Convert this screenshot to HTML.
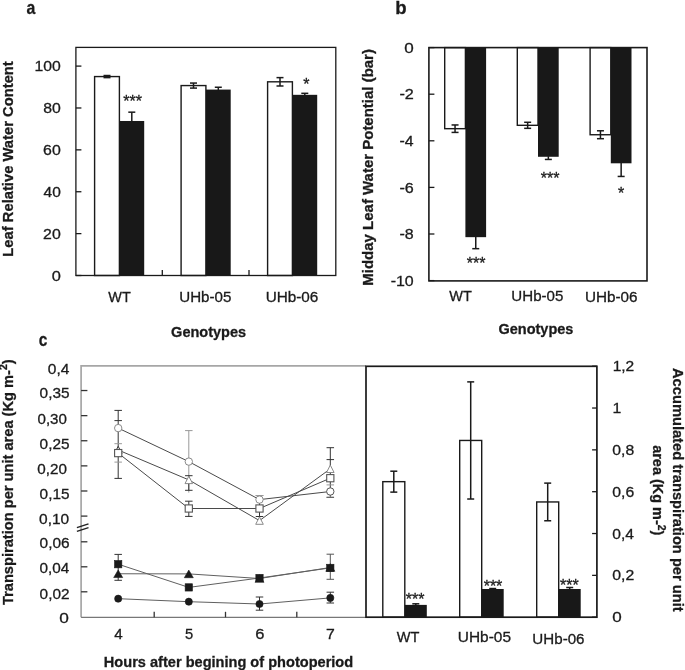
<!DOCTYPE html>
<html><head><meta charset="utf-8"><style>
html,body{margin:0;padding:0;background:#fff;overflow:hidden;width:685px;height:670px;}
svg{display:block;font-family:"Liberation Sans",sans-serif;-webkit-font-smoothing:antialiased;will-change:transform;}
text{stroke:#1a1a1a;stroke-width:0.3px;paint-order:stroke;}
</style></head><body>
<svg width="685" height="670" viewBox="0 0 685 670">
<rect width="685" height="670" fill="#fff"/>
<rect x="94.6" y="76.57" width="24.8" height="198.93" fill="#fff" stroke="#1a1a1a" stroke-width="1.4"/>
<rect x="181.1" y="85.57" width="24.8" height="189.93" fill="#fff" stroke="#1a1a1a" stroke-width="1.4"/>
<rect x="267.6" y="81.81" width="24.8" height="193.69" fill="#fff" stroke="#1a1a1a" stroke-width="1.4"/>
<rect x="119.4" y="120.99" width="24.8" height="154.51" fill="#181818"/>
<rect x="205.9" y="89.58" width="24.8" height="185.92" fill="#181818"/>
<rect x="292.4" y="94.82" width="24.8" height="180.68" fill="#181818"/>
<line x1="107" y1="75.52" x2="107" y2="77.62" stroke="#1a1a1a" stroke-width="1.5"/>
<line x1="103.5" y1="75.52" x2="110.5" y2="75.52" stroke="#1a1a1a" stroke-width="1.5"/>
<line x1="103.5" y1="77.62" x2="110.5" y2="77.62" stroke="#1a1a1a" stroke-width="1.5"/>
<line x1="193.5" y1="83.06" x2="193.5" y2="88.09" stroke="#1a1a1a" stroke-width="1.5"/>
<line x1="190" y1="83.06" x2="197" y2="83.06" stroke="#1a1a1a" stroke-width="1.5"/>
<line x1="190" y1="88.09" x2="197" y2="88.09" stroke="#1a1a1a" stroke-width="1.5"/>
<line x1="280" y1="77.62" x2="280" y2="85.99" stroke="#1a1a1a" stroke-width="1.5"/>
<line x1="276.5" y1="77.62" x2="283.5" y2="77.62" stroke="#1a1a1a" stroke-width="1.5"/>
<line x1="276.5" y1="85.99" x2="283.5" y2="85.99" stroke="#1a1a1a" stroke-width="1.5"/>
<line x1="131.8" y1="112.17" x2="131.8" y2="121.59" stroke="#1a1a1a" stroke-width="1.5"/>
<line x1="128.3" y1="112.17" x2="135.3" y2="112.17" stroke="#1a1a1a" stroke-width="1.5"/>
<line x1="218.3" y1="87.25" x2="218.3" y2="90.18" stroke="#1a1a1a" stroke-width="1.5"/>
<line x1="214.8" y1="87.25" x2="221.8" y2="87.25" stroke="#1a1a1a" stroke-width="1.5"/>
<line x1="304.8" y1="93.32" x2="304.8" y2="95.42" stroke="#1a1a1a" stroke-width="1.5"/>
<line x1="301.3" y1="93.32" x2="308.3" y2="93.32" stroke="#1a1a1a" stroke-width="1.5"/>
<rect x="75.9" y="47.4" width="259.9" height="228.1" fill="none" stroke="#1a1a1a" stroke-width="1.3"/>
<line x1="75.9" y1="275.5" x2="81.4" y2="275.5" stroke="#1a1a1a" stroke-width="1.3"/>
<line x1="75.9" y1="233.62" x2="81.4" y2="233.62" stroke="#1a1a1a" stroke-width="1.3"/>
<line x1="75.9" y1="191.74" x2="81.4" y2="191.74" stroke="#1a1a1a" stroke-width="1.3"/>
<line x1="75.9" y1="149.86" x2="81.4" y2="149.86" stroke="#1a1a1a" stroke-width="1.3"/>
<line x1="75.9" y1="107.98" x2="81.4" y2="107.98" stroke="#1a1a1a" stroke-width="1.3"/>
<line x1="75.9" y1="66.1" x2="81.4" y2="66.1" stroke="#1a1a1a" stroke-width="1.3"/>
<line x1="162.3" y1="275.5" x2="162.3" y2="270" stroke="#1a1a1a" stroke-width="1.3"/>
<line x1="249" y1="275.5" x2="249" y2="270" stroke="#1a1a1a" stroke-width="1.3"/>
<text transform="translate(51.64,280.6) scale(1.1247,1)" font-size="14.6" font-weight="normal" fill="#1a1a1a">0</text>
<text transform="translate(43.11,238.72) scale(1.0878,1)" font-size="14.6" font-weight="normal" fill="#1a1a1a">20</text>
<text transform="translate(43.51,196.84) scale(1.0618,1)" font-size="14.6" font-weight="normal" fill="#1a1a1a">40</text>
<text transform="translate(43.11,154.96) scale(1.0878,1)" font-size="14.6" font-weight="normal" fill="#1a1a1a">60</text>
<text transform="translate(43.19,113.08) scale(1.0825,1)" font-size="14.6" font-weight="normal" fill="#1a1a1a">80</text>
<text transform="translate(34.52,71.2) scale(1.0782,1)" font-size="14.6" font-weight="normal" fill="#1a1a1a">100</text>
<text transform="translate(108.33,302) scale(0.9893,1)" font-size="14.6" font-weight="normal" fill="#1a1a1a">WT</text>
<text transform="translate(179.26,302.3) scale(1.0367,1)" font-size="14.6" font-weight="normal" fill="#1a1a1a">UHb-05</text>
<text transform="translate(265.65,302.3) scale(1.0485,1)" font-size="14.6" font-weight="normal" fill="#1a1a1a">UHb-06</text>
<text transform="translate(171.12,336.5) scale(0.9689,1)" font-size="15" font-weight="bold" fill="#1a1a1a">Genotypes</text>
<text transform="translate(13,256.66) rotate(-90) scale(0.9844,1)" font-size="15" font-weight="bold" fill="#1a1a1a">Leaf Relative Water Content</text>
<text transform="translate(26.62,14) scale(0.8588,1)" font-size="18.5" font-weight="bold" fill="#1a1a1a">a</text>
<text x="132.7" y="106.5" font-size="16" font-weight="normal" text-anchor="middle" fill="#1a1a1a">***</text>
<text x="306.3" y="90" font-size="16" font-weight="normal" text-anchor="middle" fill="#1a1a1a">*</text>
<rect x="444.7" y="47.6" width="20.7" height="81.08" fill="#fff" stroke="#1a1a1a" stroke-width="1.4"/>
<rect x="517.3" y="47.6" width="20.7" height="77.71" fill="#fff" stroke="#1a1a1a" stroke-width="1.4"/>
<rect x="590.1" y="47.6" width="20.7" height="87.14" fill="#fff" stroke="#1a1a1a" stroke-width="1.4"/>
<rect x="465.4" y="47.6" width="20.7" height="189.56" fill="#181818"/>
<rect x="538" y="47.6" width="20.7" height="109.18" fill="#181818"/>
<rect x="610.8" y="47.6" width="20.7" height="115.7" fill="#181818"/>
<line x1="455.05" y1="124.96" x2="455.05" y2="132.41" stroke="#1a1a1a" stroke-width="1.5"/>
<line x1="451.55" y1="124.96" x2="458.55" y2="124.96" stroke="#1a1a1a" stroke-width="1.5"/>
<line x1="451.55" y1="132.41" x2="458.55" y2="132.41" stroke="#1a1a1a" stroke-width="1.5"/>
<line x1="527.65" y1="122.28" x2="527.65" y2="128.33" stroke="#1a1a1a" stroke-width="1.5"/>
<line x1="524.15" y1="122.28" x2="531.15" y2="122.28" stroke="#1a1a1a" stroke-width="1.5"/>
<line x1="524.15" y1="128.33" x2="531.15" y2="128.33" stroke="#1a1a1a" stroke-width="1.5"/>
<line x1="600.45" y1="130.78" x2="600.45" y2="138.7" stroke="#1a1a1a" stroke-width="1.5"/>
<line x1="596.95" y1="130.78" x2="603.95" y2="130.78" stroke="#1a1a1a" stroke-width="1.5"/>
<line x1="596.95" y1="138.7" x2="603.95" y2="138.7" stroke="#1a1a1a" stroke-width="1.5"/>
<line x1="475.75" y1="236.56" x2="475.75" y2="248.68" stroke="#1a1a1a" stroke-width="1.5"/>
<line x1="472.25" y1="248.68" x2="479.25" y2="248.68" stroke="#1a1a1a" stroke-width="1.5"/>
<line x1="548.35" y1="156.18" x2="548.35" y2="159.44" stroke="#1a1a1a" stroke-width="1.5"/>
<line x1="544.85" y1="159.44" x2="551.85" y2="159.44" stroke="#1a1a1a" stroke-width="1.5"/>
<line x1="621.15" y1="162.7" x2="621.15" y2="176.45" stroke="#1a1a1a" stroke-width="1.5"/>
<line x1="617.65" y1="176.45" x2="624.65" y2="176.45" stroke="#1a1a1a" stroke-width="1.5"/>
<rect x="428.9" y="47.6" width="218.1" height="233.3" fill="none" stroke="#1a1a1a" stroke-width="1.6"/>
<line x1="428.9" y1="47.6" x2="434.4" y2="47.6" stroke="#1a1a1a" stroke-width="1.3"/>
<line x1="428.9" y1="94.2" x2="434.4" y2="94.2" stroke="#1a1a1a" stroke-width="1.3"/>
<line x1="428.9" y1="140.8" x2="434.4" y2="140.8" stroke="#1a1a1a" stroke-width="1.3"/>
<line x1="428.9" y1="187.4" x2="434.4" y2="187.4" stroke="#1a1a1a" stroke-width="1.3"/>
<line x1="428.9" y1="234" x2="434.4" y2="234" stroke="#1a1a1a" stroke-width="1.3"/>
<line x1="428.9" y1="280.6" x2="434.4" y2="280.6" stroke="#1a1a1a" stroke-width="1.3"/>
<text transform="translate(404.32,52.7) scale(1.1680,1)" font-size="14.6" font-weight="normal" fill="#1a1a1a">0</text>
<text transform="translate(399.47,99.3) scale(1.1114,1)" font-size="14.6" font-weight="normal" fill="#1a1a1a">-2</text>
<text transform="translate(399.49,145.9) scale(1.0841,1)" font-size="14.6" font-weight="normal" fill="#1a1a1a">-4</text>
<text transform="translate(399.47,192.5) scale(1.1045,1)" font-size="14.6" font-weight="normal" fill="#1a1a1a">-6</text>
<text transform="translate(399.48,239.1) scale(1.0976,1)" font-size="14.6" font-weight="normal" fill="#1a1a1a">-8</text>
<text transform="translate(390.68,285.7) scale(1.0929,1)" font-size="14.6" font-weight="normal" fill="#1a1a1a">-10</text>
<text transform="translate(449.33,300.5) scale(0.9938,1)" font-size="14.6" font-weight="normal" fill="#1a1a1a">WT</text>
<text transform="translate(511.37,300.7) scale(1.0346,1)" font-size="14.6" font-weight="normal" fill="#1a1a1a">UHb-05</text>
<text transform="translate(584.95,302) scale(1.0465,1)" font-size="14.6" font-weight="normal" fill="#1a1a1a">UHb-06</text>
<text transform="translate(498.42,334.1) scale(0.9676,1)" font-size="15" font-weight="bold" fill="#1a1a1a">Genotypes</text>
<text transform="translate(373.1,285.67) rotate(-90) scale(0.9988,1)" font-size="15" font-weight="bold" fill="#1a1a1a">Midday Leaf Water Potential (bar)</text>
<text transform="translate(395.19,13.8) scale(1.0062,1)" font-size="18.5" font-weight="bold" fill="#1a1a1a">b</text>
<text x="476.2" y="269" font-size="16" font-weight="normal" text-anchor="middle" fill="#1a1a1a">***</text>
<text x="550.2" y="184" font-size="16" font-weight="normal" text-anchor="middle" fill="#1a1a1a">***</text>
<text x="621.2" y="198.5" font-size="16" font-weight="normal" text-anchor="middle" fill="#1a1a1a">*</text>
<line x1="81.1" y1="365.9" x2="366" y2="365.9" stroke="#a6a6a6" stroke-width="1.6"/>
<line x1="81.1" y1="365.1" x2="81.1" y2="617.3" stroke="#a6a6a6" stroke-width="1.7"/>
<line x1="81.1" y1="617.3" x2="366" y2="617.3" stroke="#777" stroke-width="1.3"/>
<line x1="81.1" y1="390.53" x2="87.4" y2="390.53" stroke="#333" stroke-width="1.3"/>
<line x1="81.1" y1="415.64" x2="87.4" y2="415.64" stroke="#333" stroke-width="1.3"/>
<line x1="81.1" y1="440.75" x2="87.4" y2="440.75" stroke="#333" stroke-width="1.3"/>
<line x1="81.1" y1="465.87" x2="87.4" y2="465.87" stroke="#333" stroke-width="1.3"/>
<line x1="81.1" y1="490.99" x2="87.4" y2="490.99" stroke="#333" stroke-width="1.3"/>
<line x1="81.1" y1="516.1" x2="87.4" y2="516.1" stroke="#333" stroke-width="1.3"/>
<line x1="81.1" y1="541.8" x2="87.4" y2="541.8" stroke="#333" stroke-width="1.3"/>
<line x1="81.1" y1="566.8" x2="87.4" y2="566.8" stroke="#333" stroke-width="1.3"/>
<line x1="81.1" y1="591.8" x2="87.4" y2="591.8" stroke="#333" stroke-width="1.3"/>
<line x1="154.2" y1="617.3" x2="154.2" y2="611.8" stroke="#333" stroke-width="1.3"/>
<line x1="225.5" y1="617.3" x2="225.5" y2="611.8" stroke="#333" stroke-width="1.3"/>
<line x1="296.8" y1="617.3" x2="296.8" y2="611.8" stroke="#333" stroke-width="1.3"/>
<line x1="76.9" y1="527.7" x2="88.5" y2="523.8" stroke="#222" stroke-width="1.4"/>
<line x1="76.9" y1="531.3" x2="88.5" y2="527.6" stroke="#222" stroke-width="1.4"/>
<text transform="translate(47.78,373.8) scale(1.0354,1)" font-size="15" font-weight="normal" fill="#1a1a1a">0,4</text>
<text transform="translate(39.58,398.3) scale(1.0259,1)" font-size="15" font-weight="normal" fill="#1a1a1a">0,35</text>
<text transform="translate(37.5,423.9) scale(1.0080,1)" font-size="15" font-weight="normal" fill="#1a1a1a">0,30</text>
<text transform="translate(39.58,448.8) scale(1.0259,1)" font-size="15" font-weight="normal" fill="#1a1a1a">0,25</text>
<text transform="translate(37.29,473.6) scale(1.0152,1)" font-size="15" font-weight="normal" fill="#1a1a1a">0,20</text>
<text transform="translate(39.58,498.9) scale(1.0259,1)" font-size="15" font-weight="normal" fill="#1a1a1a">0,15</text>
<text transform="translate(39.08,524) scale(1.0331,1)" font-size="15" font-weight="normal" fill="#1a1a1a">0,10</text>
<text transform="translate(39.58,547.8) scale(1.0287,1)" font-size="15" font-weight="normal" fill="#1a1a1a">0,06</text>
<text transform="translate(39.59,573.4) scale(1.0204,1)" font-size="15" font-weight="normal" fill="#1a1a1a">0,04</text>
<text transform="translate(39.59,598.9) scale(1.0243,1)" font-size="15" font-weight="normal" fill="#1a1a1a">0,02</text>
<text transform="translate(59.31,623.4) scale(1.1509,1)" font-size="15" font-weight="normal" fill="#1a1a1a">0</text>
<text transform="translate(114.32,639.4) scale(1.0133,1)" font-size="15" font-weight="normal" fill="#1a1a1a">4</text>
<text transform="translate(184.91,639.4) scale(0.9825,1)" font-size="15" font-weight="normal" fill="#1a1a1a">5</text>
<text transform="translate(255.17,639.4) scale(1.1014,1)" font-size="15" font-weight="normal" fill="#1a1a1a">6</text>
<text transform="translate(326.01,639.4) scale(1.0549,1)" font-size="15" font-weight="normal" fill="#1a1a1a">7</text>
<text transform="translate(103.85,666.5) scale(0.9721,1)" font-size="15" font-weight="bold" fill="#1a1a1a">Hours after begining of photoperiod</text>
<text transform="translate(38.78,345.8) scale(0.8359,1)" font-size="18.5" font-weight="bold" fill="#1a1a1a">c</text>
<text transform="translate(12.5,605.05) rotate(-90) scale(0.9761,1)" font-size="15" font-weight="bold" fill="#1a1a1a"><tspan font-size="15" dy="0" baseline-shift="0">Transpiration per unit area (Kg m-</tspan><tspan font-size="10.8" dy="0" baseline-shift="5.5">2</tspan><tspan font-size="15" dy="0" baseline-shift="0">)</tspan></text>
<polyline points="118.2,428.1 188.8,461.6 259.5,499.6 330.3,491.5" fill="none" stroke="#4a4a4a" stroke-width="1.0"/>
<polyline points="118.2,453.1 188.8,508.5 259.5,508.5 330.3,478.2" fill="none" stroke="#4a4a4a" stroke-width="1.0"/>
<polyline points="118.2,450 188.8,479.9 259.5,520.6 330.3,468.8" fill="none" stroke="#4a4a4a" stroke-width="1.0"/>
<line x1="118.2" y1="410.4" x2="118.2" y2="478.4" stroke="#333" stroke-width="1.0"/>
<line x1="114.45" y1="410.4" x2="121.95" y2="410.4" stroke="#333" stroke-width="1.0"/>
<line x1="114.45" y1="478.4" x2="121.95" y2="478.4" stroke="#333" stroke-width="1.0"/>
<line x1="114.45" y1="420.6" x2="121.95" y2="420.6" stroke="#333" stroke-width="1.0"/>
<line x1="114.45" y1="443.7" x2="121.95" y2="443.7" stroke="#999" stroke-width="1.0"/>
<line x1="114.45" y1="462.1" x2="121.95" y2="462.1" stroke="#999" stroke-width="1.0"/>
<line x1="188.8" y1="430.6" x2="188.8" y2="492.6" stroke="#999" stroke-width="1.0"/>
<line x1="185.05" y1="430.6" x2="192.55" y2="430.6" stroke="#999" stroke-width="1.0"/>
<line x1="185.05" y1="475.7" x2="192.55" y2="475.7" stroke="#333" stroke-width="1.0"/>
<line x1="185.05" y1="490.3" x2="192.55" y2="490.3" stroke="#333" stroke-width="1.0"/>
<line x1="185.05" y1="501.2" x2="192.55" y2="501.2" stroke="#333" stroke-width="1.0"/>
<line x1="185.05" y1="516.4" x2="192.55" y2="516.4" stroke="#333" stroke-width="1.0"/>
<line x1="188.8" y1="501.2" x2="188.8" y2="516.4" stroke="#333" stroke-width="1.0"/>
<line x1="188.8" y1="475.7" x2="188.8" y2="490.3" stroke="#333" stroke-width="1.0"/>
<line x1="259.5" y1="495.5" x2="259.5" y2="516.5" stroke="#333" stroke-width="1.0"/>
<line x1="255.75" y1="495.5" x2="263.25" y2="495.5" stroke="#333" stroke-width="1.0"/>
<line x1="255.75" y1="516.5" x2="263.25" y2="516.5" stroke="#333" stroke-width="1.0"/>
<line x1="255.75" y1="495.5" x2="263.25" y2="495.5" stroke="#999" stroke-width="1.0"/>
<line x1="330.3" y1="447.7" x2="330.3" y2="497.5" stroke="#333" stroke-width="1.0"/>
<line x1="326.55" y1="447.7" x2="334.05" y2="447.7" stroke="#333" stroke-width="1.0"/>
<line x1="326.55" y1="497.5" x2="334.05" y2="497.5" stroke="#333" stroke-width="1.0"/>
<line x1="326.55" y1="459.6" x2="334.05" y2="459.6" stroke="#333" stroke-width="1.0"/>
<line x1="326.55" y1="484.9" x2="334.05" y2="484.9" stroke="#999" stroke-width="1.0"/>
<line x1="326.55" y1="497" x2="334.05" y2="497" stroke="#999" stroke-width="1.0"/>
<polygon points="118.2,446.3 122,453.7 114.4,453.7" fill="#fff" stroke="#333" stroke-width="1.0"/>
<polygon points="188.8,476.2 192.6,483.6 185,483.6" fill="#fff" stroke="#8a8a8a" stroke-width="1.0"/>
<polygon points="259.5,516.9 263.3,524.3 255.7,524.3" fill="#fff" stroke="#8a8a8a" stroke-width="1.0"/>
<polygon points="330.3,465.1 334.1,472.5 326.5,472.5" fill="#fff" stroke="#8a8a8a" stroke-width="1.0"/>
<rect x="114.6" y="449.5" width="7.2" height="7.2" fill="#fff" stroke="#555" stroke-width="1.1"/>
<rect x="185.2" y="504.9" width="7.2" height="7.2" fill="#fff" stroke="#555" stroke-width="1.1"/>
<rect x="255.9" y="504.9" width="7.2" height="7.2" fill="#fff" stroke="#555" stroke-width="1.1"/>
<rect x="326.7" y="474.6" width="7.2" height="7.2" fill="#fff" stroke="#555" stroke-width="1.1"/>
<circle cx="118.2" cy="428.1" r="3.7" fill="#fff" stroke="#8a8a8a" stroke-width="1.0"/>
<circle cx="188.8" cy="461.6" r="3.7" fill="#fff" stroke="#8a8a8a" stroke-width="1.0"/>
<circle cx="259.5" cy="499.6" r="3.7" fill="#fff" stroke="#8a8a8a" stroke-width="1.0"/>
<circle cx="330.3" cy="491.5" r="3.7" fill="#fff" stroke="#555" stroke-width="1.0"/>
<polyline points="118.2,564.2 188.8,587.4 259.5,578 330.3,567.9" fill="none" stroke="#606060" stroke-width="1.0"/>
<polyline points="118.2,573.75 188.8,573.9 259.5,578.5 330.3,567.5" fill="none" stroke="#606060" stroke-width="1.0"/>
<polyline points="118.2,598.7 188.8,601.7 259.5,604 330.3,597.9" fill="none" stroke="#606060" stroke-width="1.0"/>
<line x1="118.2" y1="554.4" x2="118.2" y2="580.3" stroke="#333" stroke-width="1.0"/>
<line x1="114.45" y1="554.4" x2="121.95" y2="554.4" stroke="#333" stroke-width="1.0"/>
<line x1="114.45" y1="580.3" x2="121.95" y2="580.3" stroke="#333" stroke-width="1.0"/>
<line x1="259.5" y1="597" x2="259.5" y2="610.2" stroke="#333" stroke-width="1.0"/>
<line x1="255.75" y1="597" x2="263.25" y2="597" stroke="#333" stroke-width="1.0"/>
<line x1="255.75" y1="610.2" x2="263.25" y2="610.2" stroke="#333" stroke-width="1.0"/>
<line x1="330.3" y1="554.2" x2="330.3" y2="579.3" stroke="#555" stroke-width="1.0"/>
<line x1="326.55" y1="554.2" x2="334.05" y2="554.2" stroke="#555" stroke-width="1.0"/>
<line x1="326.55" y1="579.3" x2="334.05" y2="579.3" stroke="#555" stroke-width="1.0"/>
<line x1="330.3" y1="592.2" x2="330.3" y2="603" stroke="#333" stroke-width="1.0"/>
<line x1="326.55" y1="592.2" x2="334.05" y2="592.2" stroke="#333" stroke-width="1.0"/>
<line x1="326.55" y1="603" x2="334.05" y2="603" stroke="#333" stroke-width="1.0"/>
<polygon points="118.2,569.95 122.7,577.55 113.7,577.55" fill="#1a1a1a" stroke="#1a1a1a" stroke-width="0.6"/>
<polygon points="188.8,570.1 193.3,577.7 184.3,577.7" fill="#1a1a1a" stroke="#1a1a1a" stroke-width="0.6"/>
<polygon points="259.5,574.7 264,582.3 255,582.3" fill="#1a1a1a" stroke="#1a1a1a" stroke-width="0.6"/>
<polygon points="330.3,563.7 334.8,571.3 325.8,571.3" fill="#1a1a1a" stroke="#1a1a1a" stroke-width="0.6"/>
<rect x="114.55" y="560.55" width="7.3" height="7.3" fill="#1a1a1a" stroke="#1a1a1a" stroke-width="0.6"/>
<rect x="185.15" y="583.75" width="7.3" height="7.3" fill="#1a1a1a" stroke="#1a1a1a" stroke-width="0.6"/>
<rect x="255.85" y="574.35" width="7.3" height="7.3" fill="#1a1a1a" stroke="#1a1a1a" stroke-width="0.6"/>
<rect x="326.65" y="564.25" width="7.3" height="7.3" fill="#1a1a1a" stroke="#1a1a1a" stroke-width="0.6"/>
<circle cx="118.2" cy="598.7" r="3.6" fill="#1a1a1a" stroke="#1a1a1a" stroke-width="0.6"/>
<circle cx="188.8" cy="601.7" r="3.6" fill="#1a1a1a" stroke="#1a1a1a" stroke-width="0.6"/>
<circle cx="259.5" cy="604" r="3.6" fill="#1a1a1a" stroke="#1a1a1a" stroke-width="0.6"/>
<circle cx="330.3" cy="597.9" r="3.6" fill="#1a1a1a" stroke="#1a1a1a" stroke-width="0.6"/>
<rect x="382.8" y="481.66" width="22" height="135.54" fill="#fff" stroke="#1a1a1a" stroke-width="1.4"/>
<rect x="459.7" y="440.45" width="22" height="176.75" fill="#fff" stroke="#1a1a1a" stroke-width="1.4"/>
<rect x="536.7" y="501.95" width="22" height="115.25" fill="#fff" stroke="#1a1a1a" stroke-width="1.4"/>
<rect x="404.8" y="604.89" width="22" height="12.31" fill="#181818"/>
<rect x="481.7" y="588.99" width="22" height="28.21" fill="#181818"/>
<rect x="558.7" y="588.99" width="22" height="28.21" fill="#181818"/>
<line x1="393.8" y1="471.2" x2="393.8" y2="492.12" stroke="#1a1a1a" stroke-width="1.5"/>
<line x1="390.3" y1="471.2" x2="397.3" y2="471.2" stroke="#1a1a1a" stroke-width="1.5"/>
<line x1="390.3" y1="492.12" x2="397.3" y2="492.12" stroke="#1a1a1a" stroke-width="1.5"/>
<line x1="470.7" y1="381.88" x2="470.7" y2="499.02" stroke="#1a1a1a" stroke-width="1.5"/>
<line x1="467.2" y1="381.88" x2="474.2" y2="381.88" stroke="#1a1a1a" stroke-width="1.5"/>
<line x1="467.2" y1="499.02" x2="474.2" y2="499.02" stroke="#1a1a1a" stroke-width="1.5"/>
<line x1="547.7" y1="483.12" x2="547.7" y2="520.77" stroke="#1a1a1a" stroke-width="1.5"/>
<line x1="544.2" y1="483.12" x2="551.2" y2="483.12" stroke="#1a1a1a" stroke-width="1.5"/>
<line x1="544.2" y1="520.77" x2="551.2" y2="520.77" stroke="#1a1a1a" stroke-width="1.5"/>
<line x1="415.8" y1="603.81" x2="415.8" y2="605.49" stroke="#1a1a1a" stroke-width="1.5"/>
<line x1="412.3" y1="603.81" x2="419.3" y2="603.81" stroke="#1a1a1a" stroke-width="1.5"/>
<line x1="492.7" y1="588.54" x2="492.7" y2="589.59" stroke="#1a1a1a" stroke-width="1.5"/>
<line x1="489.2" y1="588.54" x2="496.2" y2="588.54" stroke="#1a1a1a" stroke-width="1.5"/>
<line x1="569.7" y1="587.5" x2="569.7" y2="589.59" stroke="#1a1a1a" stroke-width="1.5"/>
<line x1="566.2" y1="587.5" x2="573.2" y2="587.5" stroke="#1a1a1a" stroke-width="1.5"/>
<rect x="366" y="366.3" width="230.9" height="250.9" fill="none" stroke="#1a1a1a" stroke-width="1.7"/>
<line x1="592.1" y1="617.2" x2="596.9" y2="617.2" stroke="#1a1a1a" stroke-width="1.3"/>
<line x1="592.1" y1="575.37" x2="596.9" y2="575.37" stroke="#1a1a1a" stroke-width="1.3"/>
<line x1="592.1" y1="533.53" x2="596.9" y2="533.53" stroke="#1a1a1a" stroke-width="1.3"/>
<line x1="592.1" y1="491.7" x2="596.9" y2="491.7" stroke="#1a1a1a" stroke-width="1.3"/>
<line x1="592.1" y1="449.86" x2="596.9" y2="449.86" stroke="#1a1a1a" stroke-width="1.3"/>
<line x1="592.1" y1="408.03" x2="596.9" y2="408.03" stroke="#1a1a1a" stroke-width="1.3"/>
<line x1="592.1" y1="366.2" x2="596.9" y2="366.2" stroke="#1a1a1a" stroke-width="1.3"/>
<text transform="translate(612.22,622.3) scale(1.1368,1)" font-size="15" font-weight="normal" fill="#1a1a1a">0</text>
<text transform="translate(612.27,580.47) scale(1.0564,1)" font-size="15" font-weight="normal" fill="#1a1a1a">0,2</text>
<text transform="translate(612.28,538.63) scale(1.0404,1)" font-size="15" font-weight="normal" fill="#1a1a1a">0,4</text>
<text transform="translate(612.27,496.8) scale(1.0524,1)" font-size="15" font-weight="normal" fill="#1a1a1a">0,6</text>
<text transform="translate(612.27,454.96) scale(1.0483,1)" font-size="15" font-weight="normal" fill="#1a1a1a">0,8</text>
<text transform="translate(612.61,413.13) scale(1.0543,1)" font-size="15" font-weight="normal" fill="#1a1a1a">1</text>
<text transform="translate(612.63,371.3) scale(1.0382,1)" font-size="15" font-weight="normal" fill="#1a1a1a">1,2</text>
<text transform="translate(396.73,642) scale(0.9717,1)" font-size="15" font-weight="normal" fill="#1a1a1a">WT</text>
<text transform="translate(457.84,642) scale(1.0290,1)" font-size="15" font-weight="normal" fill="#1a1a1a">UHb-05</text>
<text transform="translate(532.36,643.8) scale(1.0105,1)" font-size="15" font-weight="normal" fill="#1a1a1a">UHb-06</text>
<text x="415.2" y="605" font-size="16" font-weight="normal" text-anchor="middle" fill="#1a1a1a">***</text>
<text x="493" y="591.5" font-size="16" font-weight="normal" text-anchor="middle" fill="#1a1a1a">***</text>
<text x="569.4" y="590.5" font-size="16" font-weight="normal" text-anchor="middle" fill="#1a1a1a">***</text>
<text transform="translate(673.1,368.03) rotate(90) scale(0.9782,1)" font-size="15" font-weight="bold" fill="#1a1a1a">Accumulated transpiration per unit</text>
<text transform="translate(652.8,445.17) rotate(90) scale(0.9658,1)" font-size="15" font-weight="bold" fill="#1a1a1a"><tspan font-size="15" dy="0" baseline-shift="0">area (Kg m-</tspan><tspan font-size="10.8" dy="0" baseline-shift="5.5">2</tspan><tspan font-size="15" dy="0" baseline-shift="0">)</tspan></text>
</svg></body></html>
